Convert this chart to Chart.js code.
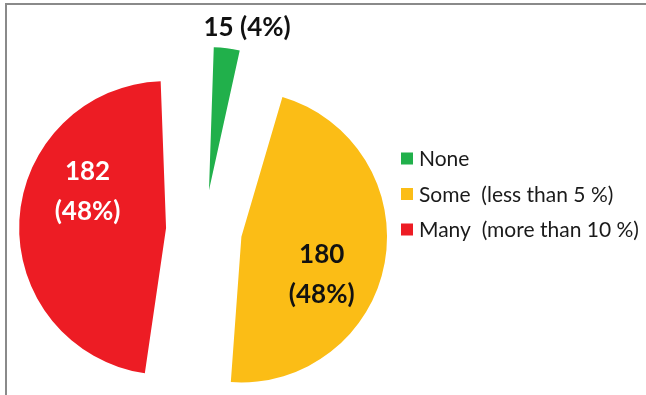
<!DOCTYPE html>
<html>
<head>
<meta charset="utf-8">
<script src="https://cdn.jsdelivr.net/npm/chart.js@4.4.1/dist/chart.umd.min.js"></script>
<style>
    html, body { margin: 0; padding: 0; background: #fff; }
    #wrap { position: relative; width: 646px; height: 395px; overflow: hidden; }
    #frame {
        position: absolute; left: 5px; top: 3px; right: -10px; bottom: -10px;
        border-top: 2px solid #8a8a8a; border-left: 2px solid #8a8a8a;
    }
    canvas { position: absolute; left: 0; top: 0; }
</style>
</head>
<body>
<div id="wrap">
    <div id="frame"></div>
    <canvas id="pieChart" width="646" height="395"></canvas>
</div>
<script>
// ---- data ----
const categories = ['None', 'Some  (less than 5 %)', 'Many  (more than 10 %)'];
const counts = [15, 180, 182];
const percentLabels = ['4%', '48%', '48%'];
const sliceColors = ['#21b04b', '#fbbd16', '#ed1c24'];

// exploded slices: Chart.js v4 moves an arc by offset / 4 px and grows it a bit too
const sliceOffsets = [160, 152, 152];

// label placement per slice (angle shift from slice middle, distance as share of drawn radius)
const labelShift = [6, 15, 22];
const labelDist = [1.17, 0.61, 0.59];
const labelColors = ['#111', '#111', '#fff'];

const sliceLabels = {
    id: 'sliceLabels',
    afterDatasetsDraw(chart) {
        const ctx = chart.ctx;
        const meta = chart.getDatasetMeta(0);
        ctx.save();
        ctx.textAlign = 'center';
        ctx.textBaseline = 'middle';
        meta.data.forEach(function (arc, i) {
            const p = arc.getProps(['x', 'y', 'startAngle', 'endAngle', 'outerRadius'], true);
            const off = (arc.options.offset || 0) / 4;
            const mid = (p.startAngle + p.endAngle) / 2;
            const r = p.outerRadius + off * (1 - Math.sin(Math.min(Math.PI, p.endAngle - p.startAngle)));
            const cx = p.x + Math.cos(mid) * off;
            const cy = p.y + Math.sin(mid) * off;
            const a = mid + labelShift[i] * Math.PI / 180;
            const lx = cx + Math.cos(a) * r * labelDist[i];
            const ly = cy + Math.sin(a) * r * labelDist[i];
            ctx.fillStyle = labelColors[i];
            ctx.font = 'bold 26px Lato';
            if (labelDist[i] > 1) {
                ctx.fillText(counts[i] + ' (' + percentLabels[i] + ')', lx, ly);
            } else {
                ctx.fillText(String(counts[i]), lx, ly - 20);
                ctx.fillText('(' + percentLabels[i] + ')', lx, ly + 20);
            }
        });
        ctx.restore();
    }
};

// legend drawn on the canvas, right of the pie
const sideLegend = {
    id: 'sideLegend',
    afterDraw(chart) {
        const ctx = chart.ctx;
        const x = 401, top = 158.5, step = 35.5, box = 12;
        ctx.save();
        ctx.font = '21px Lato';
        ctx.textBaseline = 'middle';
        ctx.textAlign = 'left';
        categories.forEach(function (name, i) {
            const y = top + i * step;
            ctx.fillStyle = sliceColors[i];
            ctx.fillRect(x, y - box / 2, box, box);
            ctx.fillStyle = '#1a1a1a';
            ctx.fillText(name, x + box + 6, y + 1);
        });
        ctx.restore();
    }
};

new Chart(document.getElementById('pieChart').getContext('2d'), {
    type: 'pie',
    data: {
        labels: categories,
        datasets: [{
            data: counts,
            backgroundColor: sliceColors,
            borderWidth: 0,
            offset: sliceOffsets,
            radius: 113,
            clip: false
        }]
    },
    options: {
        responsive: false,
        animation: false,
        rotation: 0,
        layout: { padding: { left: 38, right: 276, top: 65, bottom: 0 } },
        plugins: {
            legend: { display: false },
            tooltip: { enabled: false }
        }
    },
    plugins: [sliceLabels, sideLegend]
});
</script>
</body>
</html>
